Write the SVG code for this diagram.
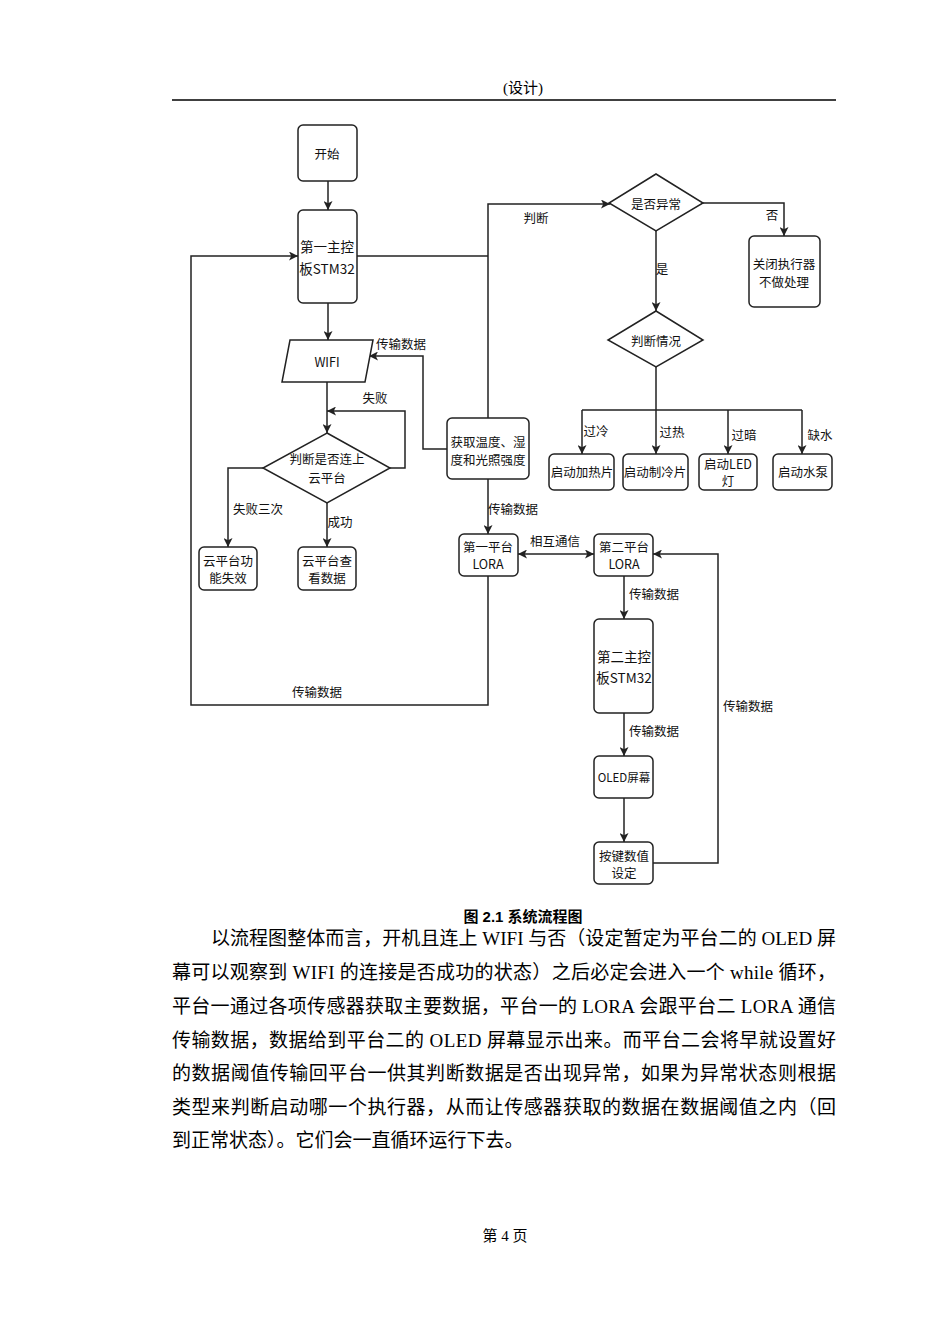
<svg xmlns="http://www.w3.org/2000/svg" width="950" height="1344" viewBox="0 0 950 1344">
<defs>
<marker id="ah" viewBox="0 0 10 10" refX="10" refY="5" markerWidth="9" markerHeight="9" markerUnits="userSpaceOnUse" orient="auto-start-reverse"><path d="M0,0 L10,5 L0,10 L2.5,5 Z" fill="#222"/></marker>
<style>
.bx{fill:#fff;stroke:#222;stroke-width:1.5}
.ln{fill:none;stroke:#222;stroke-width:1.5}
.ar{fill:none;stroke:#222;stroke-width:1.5;marker-end:url(#ah)}
.t{font-family:"Noto Sans CJK SC","Liberation Sans",sans-serif;font-size:12.5px;fill:#111;text-anchor:middle;dominant-baseline:central}
.tb{font-family:"Noto Sans CJK SC","Liberation Sans",sans-serif;font-size:13.5px;fill:#111;text-anchor:middle;dominant-baseline:central}
.lb{font-family:"Noto Sans CJK SC","Liberation Sans",sans-serif;font-size:12.5px;fill:#111;text-anchor:middle;dominant-baseline:central}
.body{font-family:"Liberation Serif","Noto Sans CJK SC",serif;font-size:19px;fill:#000}
</style>
</defs>
<rect width="950" height="1344" fill="#fff"/>
<text x="523" y="93" style="font-family:'Liberation Serif','Noto Sans CJK SC',serif;font-size:15px;text-anchor:middle">(设计)</text>
<line x1="172" y1="100" x2="836" y2="100" stroke="#000" stroke-width="1.3"/>

<g id="connectors">
<path class="ar" d="M328,181 V210"/>
<path class="ar" d="M328,303 V340"/>
<path class="ar" d="M327,382 V433"/>
<path class="ar" d="M390,468 H405 V411 H327"/>
<path class="ar" d="M263,468 H228 V547"/>
<path class="ar" d="M327,503 V547"/>
<path class="ln" d="M357,256 H488"/>
<path class="ar" d="M488,418 V204 H610"/>
<path class="ar" d="M447,449 H423 V356 H369"/>
<path class="ar" d="M488,479 V534"/>
<path class="ar" d="M488,576 V705 H191 V256 H298"/>
<path class="ar" d="M518,554 H594" style="marker-start:url(#ah)"/>
<path class="ar" d="M703,203 H784 V236"/>
<path class="ar" d="M656,231 V311"/>
<path class="ln" d="M656,367 V410 M582,410 H802"/>
<path class="ar" d="M582,410 V454"/>
<path class="ar" d="M656,410 V454"/>
<path class="ar" d="M728,410 V454"/>
<path class="ar" d="M802,410 V454"/>
<path class="ar" d="M624,576 V619"/>
<path class="ar" d="M624,713 V756"/>
<path class="ar" d="M624,798 V842"/>
<path class="ar" d="M653,863 H718 V554 H653"/>
<text class="lb" x="536" y="217">判断</text>
<text class="lb" x="401" y="343">传输数据</text>
<text class="lb" x="375" y="397">失败</text>
<text class="lb" x="258" y="508">失败三次</text>
<text class="lb" x="340" y="521">成功</text>
<text class="lb" x="513" y="508">传输数据</text>
<text class="lb" x="317" y="691">传输数据</text>
<text class="lb" x="555" y="540">相互通信</text>
<text class="lb" x="654" y="593">传输数据</text>
<text class="lb" x="654" y="730">传输数据</text>
<text class="lb" x="748" y="705">传输数据</text>
<text class="lb" x="772" y="214">否</text>
<text class="lb" x="662" y="268">是</text>
<text class="lb" x="596" y="430">过冷</text>
<text class="lb" x="672" y="431">过热</text>
<text class="lb" x="744" y="434">过暗</text>
<text class="lb" x="820" y="434">缺水</text>
</g>

<g id="start"><rect class="bx" x="298" y="125" width="59" height="56" rx="5"/><text class="t" x="327" y="153">开始</text></g>
<g id="stm32a"><rect class="bx" x="298" y="210" width="59" height="93" rx="5"/><text class="tb" x="327" y="246">第一主控</text><text class="tb" x="327" y="268">板STM32</text></g>
<g id="wifi"><path class="bx" d="M290,340 H373 L365,382 H282 Z"/><text class="t" x="327" y="361">WIFI</text></g>
<g id="cloudcheck"><path class="bx" d="M327,433 L390,468 L327,503 L263,468 Z"/><text class="t" x="327" y="458">判断是否连上</text><text class="t" x="327" y="477">云平台</text></g>
<g id="cloudfail"><rect class="bx" x="199" y="547" width="58" height="43" rx="5"/><text class="t" x="228" y="560">云平台功</text><text class="t" x="228" y="577">能失效</text></g>
<g id="cloudok"><rect class="bx" x="298" y="547" width="58" height="43" rx="5"/><text class="t" x="327" y="560">云平台查</text><text class="t" x="327" y="577">看数据</text></g>
<g id="sensor"><rect class="bx" x="447" y="418" width="82" height="61" rx="5"/><text class="t" x="488" y="441">获取温度、湿</text><text class="t" x="488" y="459">度和光照强度</text></g>
<g id="lora1"><rect class="bx" x="459" y="534" width="59" height="42" rx="5"/><text class="t" x="488" y="546">第一平台</text><text class="t" x="488" y="563">LORA</text></g>
<g id="lora2"><rect class="bx" x="594" y="534" width="59" height="42" rx="5"/><text class="t" x="624" y="546">第二平台</text><text class="t" x="624" y="563">LORA</text></g>
<g id="stm32b"><rect class="bx" x="594" y="619" width="59" height="94" rx="5"/><text class="tb" x="624" y="656">第二主控</text><text class="tb" x="624" y="677">板STM32</text></g>
<g id="oled"><rect class="bx" x="594" y="756" width="59" height="42" rx="5"/><text class="t" x="624" y="777" style="font-size:11.5px">OLED屏幕</text></g>
<g id="keys"><rect class="bx" x="594" y="842" width="59" height="42" rx="5"/><text class="t" x="624" y="855">按键数值</text><text class="t" x="624" y="872">设定</text></g>
<g id="abnormal"><path class="bx" d="M656,174 L703,203 L656,231 L609,203 Z"/><text class="t" x="656" y="203">是否异常</text></g>
<g id="close"><rect class="bx" x="749" y="236" width="71" height="71" rx="5"/><text class="t" x="784" y="263">关闭执行器</text><text class="t" x="784" y="281">不做处理</text></g>
<g id="situation"><path class="bx" d="M656,311 L703,340 L656,367 L608,340 Z"/><text class="t" x="656" y="340">判断情况</text></g>
<g id="heat"><rect class="bx" x="549" y="454" width="65" height="36" rx="5"/><text class="t" x="582" y="471">启动加热片</text></g>
<g id="cool"><rect class="bx" x="623" y="454" width="65" height="36" rx="5"/><text class="t" x="655" y="471">启动制冷片</text></g>
<g id="led"><rect class="bx" x="699" y="454" width="58" height="36" rx="5"/><text class="t" x="728" y="463">启动LED</text><text class="t" x="728" y="480">灯</text></g>
<g id="pump"><rect class="bx" x="773" y="454" width="59" height="36" rx="5"/><text class="t" x="803" y="471">启动水泵</text></g>

<text x="523" y="922" style="font-family:'Liberation Sans','Noto Sans CJK SC',sans-serif;font-size:15px;font-weight:bold;text-anchor:middle">图 2.1  系统流程图</text>
<text class="body" x="211" y="945" textLength="625" lengthAdjust="spacing">以流程图整体而言，开机且连上 WIFI 与否（设定暂定为平台二的 OLED 屏</text>
<text class="body" x="172" y="979" textLength="664" lengthAdjust="spacing">幕可以观察到 WIFI 的连接是否成功的状态）之后必定会进入一个 while 循环，</text>
<text class="body" x="172" y="1013" textLength="664" lengthAdjust="spacing">平台一通过各项传感器获取主要数据，平台一的 LORA 会跟平台二 LORA 通信</text>
<text class="body" x="172" y="1047" textLength="664" lengthAdjust="spacing">传输数据，数据给到平台二的 OLED 屏幕显示出来。而平台二会将早就设置好</text>
<text class="body" x="172" y="1080" textLength="664" lengthAdjust="spacing">的数据阈值传输回平台一供其判断数据是否出现异常，如果为异常状态则根据</text>
<text class="body" x="172" y="1114" textLength="664" lengthAdjust="spacing">类型来判断启动哪一个执行器，从而让传感器获取的数据在数据阈值之内（回</text>
<text class="body" x="172" y="1147">到正常状态）。它们会一直循环运行下去。</text>
<text x="505" y="1241" style="font-family:'Liberation Serif','Noto Sans CJK SC',serif;font-size:15px;text-anchor:middle">第 4 页</text>
</svg>
